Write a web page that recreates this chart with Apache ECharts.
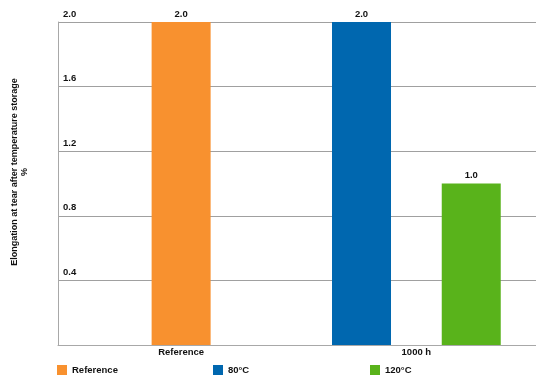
<!DOCTYPE html>
<html>
<head>
<meta charset="utf-8">
<script src="https://cdn.jsdelivr.net/npm/echarts@6/dist/echarts.min.js"></script>
<style>html,body{margin:0;padding:0;background:#fff}#c{width:536px;height:378px}</style>
</head>
<body>
<div id="c"></div>
<script>
const categories = ['Reference', '1000 h'];
const referenceValues = [2.0, '-'];
const values80 = ['-', 2.0];
const values120 = ['-', 1.0];
const seriesNames = ['Reference', '80\u00B0C', '120\u00B0C'];
const yTicks = [0, 0.4, 0.8, 1.2, 1.6, 2.0];
const yTitle = 'Elongation at tear after temperature storage';
const yUnit = '%';

const FONT = '"Liberation Sans", Arial, sans-serif';
const colors = ['#F8912F', '#0067AF', '#59B31B'];
const txt = { fontFamily: FONT, fontWeight: 'bold', fontSize: 9.5, color: '#111' };

const chart = echarts.init(document.getElementById('c'), null, { renderer: 'canvas' });
const lbl = { show: true, position: 'top', distance: 3, formatter: p => Number(p.value).toFixed(1), ...txt };

chart.setOption({
  animation: false,
  grid: [
    { left: 58, right: 0, top: 22, bottom: 33 },
    { left: 63.5, right: 2, top: 22, bottom: 33 }
  ],
  xAxis: [
    { gridIndex: 0, type: 'category', data: categories, axisLine: { show: true, lineStyle: { color: '#a8a8a8', width: 1 } },
      axisTick: { show: false }, axisLabel: { show: false }, splitLine: { show: false } },
    { gridIndex: 1, type: 'category', data: categories, axisLine: { show: false }, axisTick: { show: false },
      axisLabel: { ...txt, margin: 2 } },
    { gridIndex: 1, type: 'category', data: categories, show: false }
  ],
  yAxis: [
    { gridIndex: 0, type: 'value', min: yTicks[0], max: yTicks[yTicks.length - 1], interval: 0.4,
      axisLine: { show: true, lineStyle: { color: '#a8a8a8', width: 1 } }, axisTick: { show: false },
      splitLine: { show: true, lineStyle: { color: '#a0a0a0', width: 1 } },
      axisLabel: { inside: true, margin: 5, verticalAlign: 'bottom', lineHeight: 10, padding: [0, 0, 3, 0], ...txt,
        formatter: v => v === 0 ? '' : v.toFixed(1) } },
    { gridIndex: 1, type: 'value', min: yTicks[0], max: yTicks[yTicks.length - 1], show: false }
  ],
  legend: [0, 1, 2].map(i => ({
    data: [seriesNames[i]], left: [57, 213, 370][i], top: 365, padding: 0,
    itemWidth: 10, itemHeight: 10, icon: 'rect', itemGap: 5, textStyle: { ...txt, padding: [0, 0, 0, 0] }
  })),
  graphic: [{
    type: 'text', x: 20, y: 172, rotation: Math.PI / 2,
    style: { text: yTitle + '\n' + yUnit, align: 'center', verticalAlign: 'middle', lineHeight: 10,
      font: 'bold 9px ' + FONT, fill: '#111' }
  }],
  series: [
    { name: seriesNames[0], type: 'bar', xAxisIndex: 2, yAxisIndex: 1, data: referenceValues, barWidth: 59,
      itemStyle: { color: colors[0] }, label: lbl },
    { name: seriesNames[1], type: 'bar', xAxisIndex: 1, yAxisIndex: 1, data: values80, barWidth: 59, barGap: '86%',
      itemStyle: { color: colors[1] }, label: lbl },
    { name: seriesNames[2], type: 'bar', xAxisIndex: 1, yAxisIndex: 1, data: values120, barWidth: 59, barGap: '86%',
      itemStyle: { color: colors[2] }, label: lbl }
  ]
});
</script>
</body>
</html>
